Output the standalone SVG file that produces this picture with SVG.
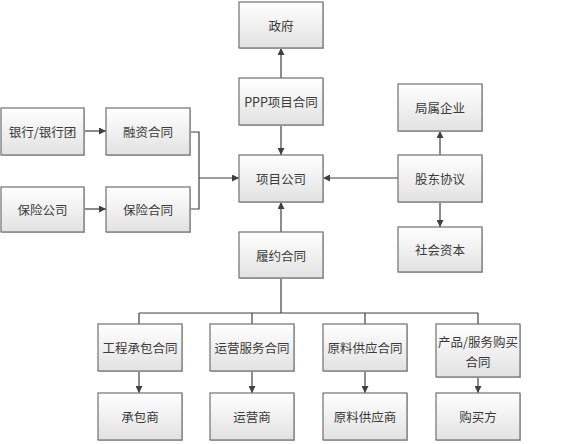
<svg xmlns="http://www.w3.org/2000/svg" width="580" height="444" viewBox="0 0 580 444">
<style>
.box{fill:url(#g);stroke:#707070;stroke-width:1.2}
.sh{fill:#c8c8c8}
.t{font-family:"Noto Sans CJK SC","Liberation Sans",sans-serif;font-size:12.5px;fill:#3a3a3a;text-anchor:middle;dominant-baseline:central}
.ln{stroke:#404040;stroke-width:1.2;fill:none}
</style>
<defs>
<linearGradient id="g" x1="0" y1="0" x2="0" y2="1">
<stop offset="0" stop-color="#ffffff"/>
<stop offset="1" stop-color="#e2e2e2"/>
</linearGradient>
<marker id="a" viewBox="0 0 10 10" refX="10" refY="5" markerWidth="7" markerHeight="7" orient="auto" markerUnits="userSpaceOnUse">
<path d="M0,0 L10,5 L0,10 z" fill="#404040"/>
</marker>
</defs>
<rect width="580" height="444" fill="#ffffff"/>
<g id="connectors">
<line class="ln" x1="281" y1="78" x2="281" y2="48" marker-end="url(#a)"/>
<line class="ln" x1="281" y1="125" x2="281" y2="155" marker-end="url(#a)"/>
<line class="ln" x1="281" y1="232" x2="281" y2="202" marker-end="url(#a)"/>
<line class="ln" x1="84" y1="131" x2="106" y2="131" marker-end="url(#a)"/>
<line class="ln" x1="84" y1="209" x2="106" y2="209" marker-end="url(#a)"/>
<polyline class="ln" points="190,132 199,132 199,209 190,209"/>
<line class="ln" x1="199" y1="178" x2="239" y2="178" marker-end="url(#a)"/>
<line class="ln" x1="398" y1="178" x2="323" y2="178" marker-end="url(#a)"/>
<line class="ln" x1="440" y1="155" x2="440" y2="131" marker-end="url(#a)"/>
<line class="ln" x1="440" y1="202" x2="440" y2="227" marker-end="url(#a)"/>
<line class="ln" x1="281" y1="278" x2="281" y2="313"/>
<line class="ln" x1="139" y1="313" x2="478" y2="313"/>
<line class="ln" x1="139" y1="313" x2="139" y2="324"/>
<line class="ln" x1="252" y1="313" x2="252" y2="324"/>
<line class="ln" x1="365" y1="313" x2="365" y2="324"/>
<line class="ln" x1="478" y1="313" x2="478" y2="324"/>
<line class="ln" x1="139" y1="371" x2="139" y2="393" marker-end="url(#a)"/>
<line class="ln" x1="252" y1="371" x2="252" y2="393" marker-end="url(#a)"/>
<line class="ln" x1="365" y1="371" x2="365" y2="393" marker-end="url(#a)"/>
<line class="ln" x1="478" y1="377" x2="478" y2="393" marker-end="url(#a)"/>
</g>
<g id="n-gov"><rect class="sh" x="240" y="3" width="84" height="46"/><rect class="box" x="239" y="2" width="84" height="46"/><text class="t" x="281" y="25">政府</text></g>
<g id="n-ppp"><rect class="sh" x="240" y="79" width="84" height="47"/><rect class="box" x="239" y="78" width="84" height="47"/><text class="t" x="281" y="101.5">PPP项目合同</text></g>
<g id="n-jszy"><rect class="sh" x="399" y="85" width="84" height="47"/><rect class="box" x="398" y="84" width="84" height="47"/><text class="t" x="440" y="107.5">局属企业</text></g>
<g id="n-bank"><rect class="sh" x="2" y="109" width="83" height="47"/><rect class="box" x="1" y="108" width="83" height="47"/><text class="t" x="42.5" y="131.5">银行/银行团</text></g>
<g id="n-rz"><rect class="sh" x="107" y="109" width="84" height="47"/><rect class="box" x="106" y="108" width="84" height="47"/><text class="t" x="148" y="131.5">融资合同</text></g>
<g id="n-xm"><rect class="sh" x="240" y="156" width="84" height="47"/><rect class="box" x="239" y="155" width="84" height="47"/><text class="t" x="281" y="178.5">项目公司</text></g>
<g id="n-gd"><rect class="sh" x="399" y="156" width="84" height="47"/><rect class="box" x="398" y="155" width="84" height="47"/><text class="t" x="440" y="178.5">股东协议</text></g>
<g id="n-bxgs"><rect class="sh" x="2" y="188" width="83" height="45"/><rect class="box" x="1" y="187" width="83" height="45"/><text class="t" x="42.5" y="209.5">保险公司</text></g>
<g id="n-bxht"><rect class="sh" x="107" y="188" width="84" height="45"/><rect class="box" x="106" y="187" width="84" height="45"/><text class="t" x="148" y="209.5">保险合同</text></g>
<g id="n-shzb"><rect class="sh" x="399" y="228" width="84" height="45"/><rect class="box" x="398" y="227" width="84" height="45"/><text class="t" x="440" y="249.5">社会资本</text></g>
<g id="n-ly"><rect class="sh" x="240" y="233" width="84" height="46"/><rect class="box" x="239" y="232" width="84" height="46"/><text class="t" x="281" y="255">履约合同</text></g>
<g id="n-gc"><rect class="sh" x="99" y="325" width="84" height="47"/><rect class="box" x="98" y="324" width="84" height="47"/><text class="t" x="140" y="347.5">工程承包合同</text></g>
<g id="n-yy"><rect class="sh" x="211" y="325" width="84" height="47"/><rect class="box" x="210" y="324" width="84" height="47"/><text class="t" x="252" y="347.5">运营服务合同</text></g>
<g id="n-yl"><rect class="sh" x="324" y="325" width="84" height="47"/><rect class="box" x="323" y="324" width="84" height="47"/><text class="t" x="365" y="347.5">原料供应合同</text></g>
<g id="n-cp"><rect class="sh" x="437" y="325" width="84" height="53"/><rect class="box" x="436" y="324" width="84" height="53"/><text class="t" x="478" y="341">产品/服务购买</text><text class="t" x="478" y="361">合同</text></g>
<g id="n-cbs"><rect class="sh" x="99" y="394" width="84" height="47"/><rect class="box" x="98" y="393" width="84" height="47"/><text class="t" x="140" y="416.5">承包商</text></g>
<g id="n-yys"><rect class="sh" x="211" y="394" width="84" height="47"/><rect class="box" x="210" y="393" width="84" height="47"/><text class="t" x="252" y="416.5">运营商</text></g>
<g id="n-ylgy"><rect class="sh" x="324" y="394" width="84" height="47"/><rect class="box" x="323" y="393" width="84" height="47"/><text class="t" x="365" y="416.5">原料供应商</text></g>
<g id="n-gmf"><rect class="sh" x="437" y="394" width="84" height="47"/><rect class="box" x="436" y="393" width="84" height="47"/><text class="t" x="478" y="416.5">购买方</text></g>
</svg>
